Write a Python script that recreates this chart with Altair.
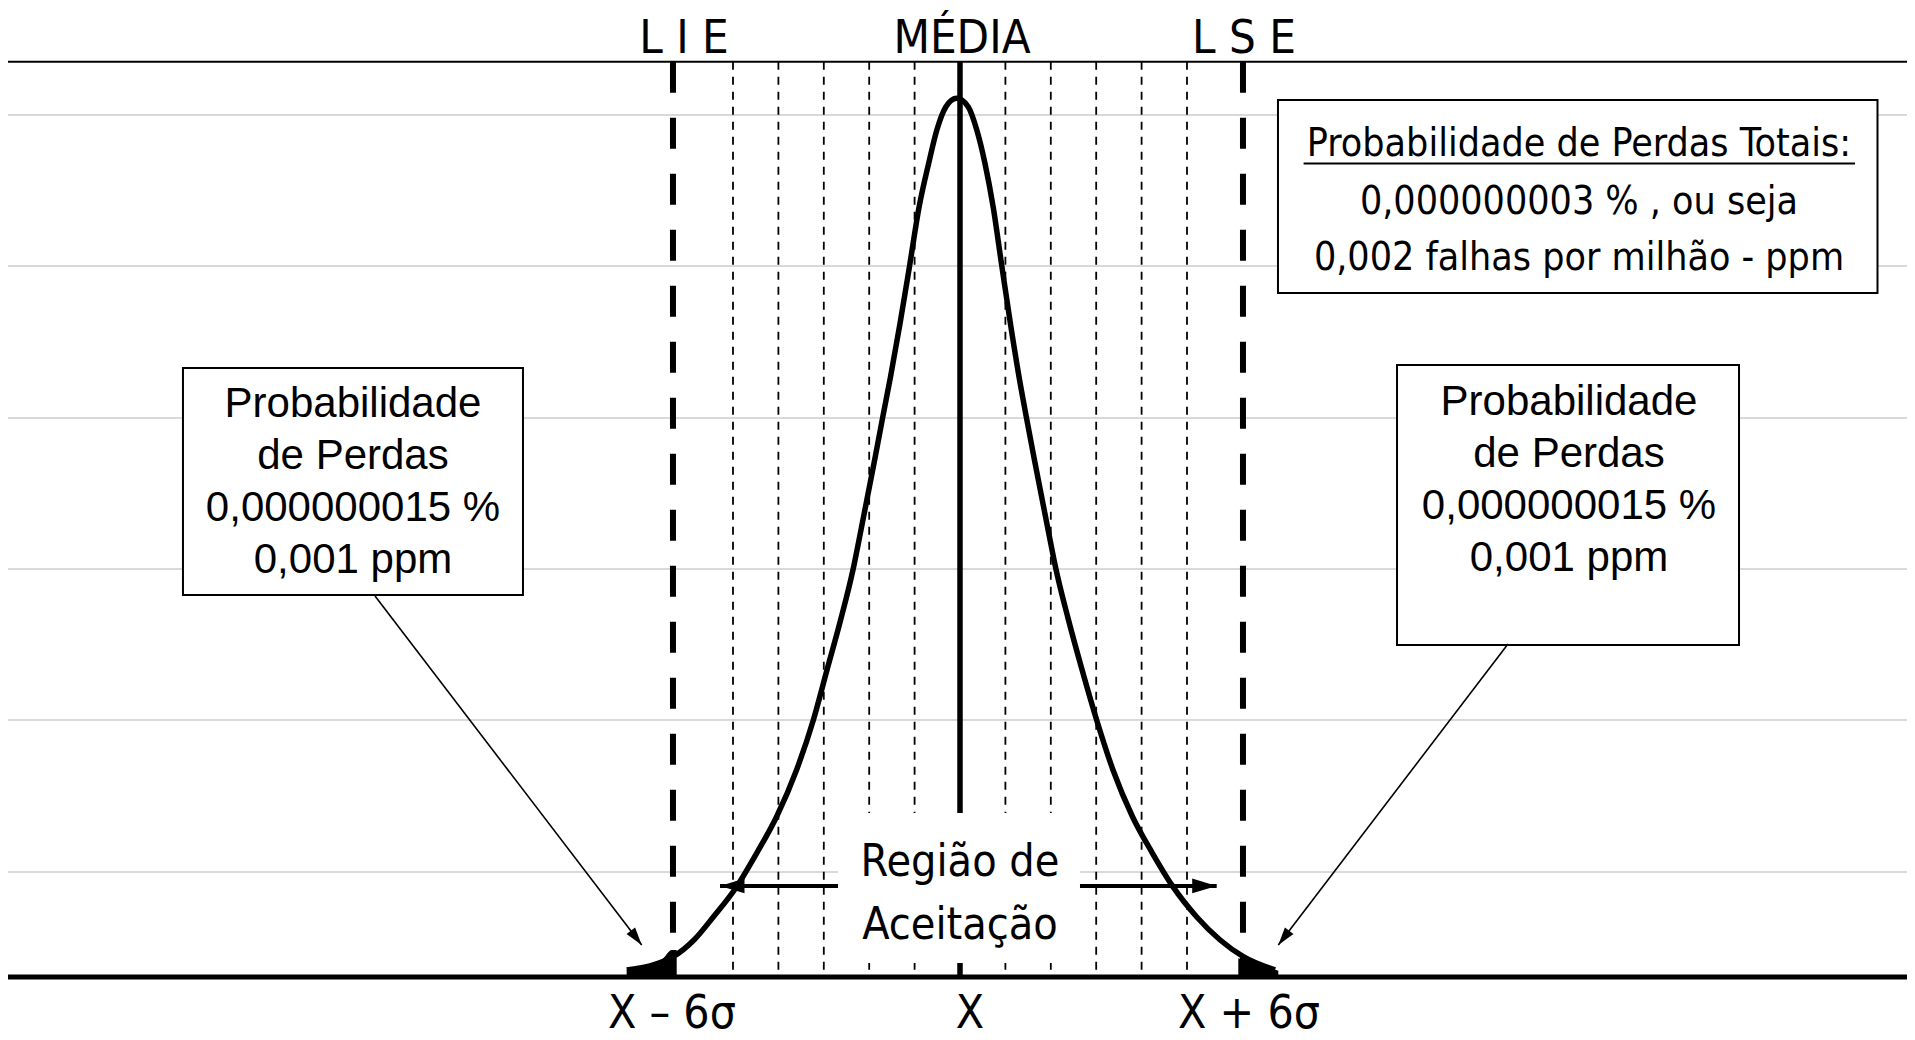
import math
import altair as alt
import pandas as pd

# ---------------- data ----------------
# x: position in sigma-grid units from the centre line, y: % of the curve peak height
X_DOMAIN = [-20.969, 20.859]
Y_DOMAIN = [-7.170, 110.277]

curve_x = [-7.34, -6.32, -5.86, -5.43, -4.92, -4.48, -4.04, -3.60, -3.23, -2.93,
           -2.63, -2.35, -2.21, -1.88, -1.70, -1.53, -1.32, -1.11, -0.90, -0.69,
           -0.51, -0.31, -0.073, 0.18, 0.37, 0.55, 0.73, 0.92, 1.11, 1.30,
           1.46, 1.64, 1.97, 2.11, 2.39, 2.69, 3.01, 3.37, 3.80, 4.24,
           4.69, 5.21, 5.73, 6.24, 6.94]
curve_y = [0.80, 2.31, 4.21, 6.86, 10.28, 14.08, 18.24, 23.56, 29.25, 34.94,
           40.63, 46.51, 50.11, 58.84, 63.77, 68.32, 74.39, 80.95, 87.66, 92.60,
           96.39, 99.04, 100.0, 99.04, 96.39, 92.60, 87.66, 80.95, 74.39, 68.32,
           63.77, 58.84, 50.11, 46.51, 40.63, 34.94, 29.25, 23.56, 18.24, 14.08,
           10.28, 6.86, 4.21, 2.31, 0.80]

left_tail_x = [-7.342, -7.048, -6.755, -6.535, -6.350, -6.240]
left_tail_y = [0.80, 0.99, 1.37, 2.13, 3.07, 3.07]
right_tail_x = [6.130, 6.388, 6.681, 7.011]
right_tail_y = [2.13, 1.74, 1.25, 0.72]

sigma_lines = [-5, -4, -3, -2, -1, 1, 2, 3, 4, 5]
spec_limits = [-6.322, 6.233]
frame_top = 104.17
grid_levels = [98.10, 80.91, 63.62, 46.43, 29.25, 11.95]

top_labels = ["L I E", "MÉDIA", "L S E"]
top_label_x = [-6.079, 0.044, 6.255]
top_label_y = 105.15

bottom_labels = ["X – 6σ", "X", "X + 6σ"]
bottom_label_x = [-6.344, 0.22, 6.366]
bottom_label_y = -5.81

box_x = [-17.115, 9.626, 7.004]
box_x2 = [-9.626, 17.159, 20.209]
box_y = [69.31, 69.65, 99.81]
box_y2 = [43.47, 37.78, 77.84]

side_lines = ["Probabilidade", "de Perdas", "0,000000015 %", "0,001 ppm"]
left_text_x = -13.370
left_text_y = [63.73, 57.81, 51.89, 45.98]
right_text_x = 13.414
right_text_y = [63.96, 58.04, 52.12, 46.20]

total_lines = ["Probabilidade de Perdas Totais:", "0,000000003 % , ou seja",
               "0,002 falhas por milhão - ppm"]
total_text_x = 13.634
total_text_y = [93.49, 86.89, 80.41]
underline_x = [7.568, 19.714]
underline_y = 92.58

accept_lines = ["Região de", "Aceitação"]
accept_text_y = [11.5, 4.3]
accept_mask_x = [-2.687, 2.643]
accept_mask_y = [1.59, 18.66]
accept_arrow_from = [-2.687, 2.643]
accept_arrow_to = [-5.286, 5.654]
accept_arrow_y = 10.36

loss_arrow_x = [-12.885, 12.070]
loss_arrow_y = [43.36, 37.90]
loss_tip_x = [-7.011, 7.011]
loss_tip_y = [3.64, 3.64]

# ---------------- chart ----------------
W, H = 1899, 1032
NARROW = "DejaVu Sans Condensed, Liberation Sans Narrow, sans-serif"
REG = "Liberation Sans, Arial, sans-serif"

xs = alt.Scale(domain=X_DOMAIN, nice=False, zero=False)
ys = alt.Scale(domain=Y_DOMAIN, nice=False, zero=False)
px_x = W / (X_DOMAIN[1] - X_DOMAIN[0])
px_y = H / (Y_DOMAIN[1] - Y_DOMAIN[0])


def X(f="x"):
    return alt.X(f"{f}:Q", scale=xs, axis=None)


def Y(f="y"):
    return alt.Y(f"{f}:Q", scale=ys, axis=None)


def hrule(levels, color, width):
    df = pd.DataFrame({"y": levels, "x": X_DOMAIN[0], "x2": X_DOMAIN[1]})
    return alt.Chart(df).mark_rule(color=color, strokeWidth=width).encode(
        x=X(), x2="x2:Q", y=Y())


grid = hrule(grid_levels, "#d9d9d9", 2)
topline = hrule([frame_top], "black", 2)
baseline = hrule([0.0], "black", 5)

thin = alt.Chart(pd.DataFrame({"x": sigma_lines, "y": frame_top, "y2": 0})).mark_rule(
    color="black", strokeWidth=1.8, strokeDash=[8, 7]).encode(x=X(), y=Y(), y2="y2:Q")

limits = alt.Chart(pd.DataFrame({"x": spec_limits, "y": frame_top, "y2": 0})).mark_rule(
    color="black", strokeWidth=6, strokeDash=[31, 25]).encode(x=X(), y=Y(), y2="y2:Q")

centre = alt.Chart(pd.DataFrame({"x": [0.0], "y": [frame_top], "y2": [0.0]})).mark_rule(
    color="black", strokeWidth=5.5).encode(x=X(), y=Y(), y2="y2:Q")

curve = alt.Chart(pd.DataFrame({"x": curve_x, "y": curve_y})).mark_line(
    color="black", strokeWidth=5.5, interpolate="monotone").encode(x=X(), y=Y())

tails = alt.Chart(pd.DataFrame({
    "x": left_tail_x + right_tail_x,
    "y": left_tail_y + right_tail_y,
    "side": ["L"] * len(left_tail_x) + ["R"] * len(right_tail_x)})).mark_area(
    color="black", interpolate="monotone").encode(
    x=X(), y=Y(), y2=alt.datum(0), detail="side:N")

mask = alt.Chart(pd.DataFrame({"x": [accept_mask_x[0]], "x2": [accept_mask_x[1]],
                               "y": [accept_mask_y[0]], "y2": [accept_mask_y[1]]})).mark_rect(
    color="white").encode(x=X(), x2="x2:Q", y=Y(), y2="y2:Q")

boxes = alt.Chart(pd.DataFrame({"x": box_x, "x2": box_x2, "y": box_y, "y2": box_y2})).mark_rect(
    fill="white", stroke="black", strokeWidth=2).encode(x=X(), x2="x2:Q", y=Y(), y2="y2:Q")

# arrows
HEAD = "M0,0 L4,-1.2 L4,1.2 Z"
acc = alt.Chart(pd.DataFrame({"x": accept_arrow_from, "x2": accept_arrow_to,
                              "y": accept_arrow_y})).mark_rule(
    color="black", strokeWidth=4).encode(x=X(), x2="x2:Q", y=Y())
acc_heads = alt.Chart(pd.DataFrame({"x": accept_arrow_to, "y": accept_arrow_y,
                                    "a": [0, 180]})).mark_point(
    shape=HEAD, filled=True, size=150, color="black", opacity=1).encode(
    x=X(), y=Y(), angle=alt.Angle("a:Q", scale=None))

loss = alt.Chart(pd.DataFrame({"x": loss_arrow_x, "y": loss_arrow_y,
                               "x2": loss_tip_x, "y2": loss_tip_y})).mark_rule(
    color="black", strokeWidth=1.6).encode(x=X(), y=Y(), x2="x2:Q", y2="y2:Q")
angles = []
for x0, y0, x1, y1 in zip(loss_arrow_x, loss_arrow_y, loss_tip_x, loss_tip_y):
    dxp = (x0 - x1) * px_x
    dyp = -(y0 - y1) * px_y
    angles.append(math.degrees(math.atan2(dyp, dxp)) % 360)
loss_heads = alt.Chart(pd.DataFrame({"x": loss_tip_x, "y": loss_tip_y, "a": angles})).mark_point(
    shape=HEAD, filled=True, size=80, color="black", opacity=1).encode(
    x=X(), y=Y(), angle=alt.Angle("a:Q", scale=None))

underline = alt.Chart(pd.DataFrame({"x": [underline_x[0]], "x2": [underline_x[1]],
                                    "y": [underline_y]})).mark_rule(
    color="black", strokeWidth=2).encode(x=X(), x2="x2:Q", y=Y())


def texts(labels, xs_, ys_, font, size):
    df = pd.DataFrame({"t": labels, "x": xs_, "y": ys_})
    return alt.Chart(df).mark_text(font=font, fontSize=size, color="black",
                                   align="center", baseline="alphabetic").encode(
        x=X(), y=Y(), text="t:N")


t_top = texts(top_labels, top_label_x, [top_label_y] * 3, NARROW, 47)
t_bot = texts(bottom_labels, bottom_label_x, [bottom_label_y] * 3, NARROW, 46)
t_left = texts(side_lines, [left_text_x] * 4, left_text_y, REG, 42)
t_right = texts(side_lines, [right_text_x] * 4, right_text_y, REG, 42)
t_total = texts(total_lines, [total_text_x] * 3, total_text_y, NARROW, 39)
t_acc = texts(accept_lines, [0.0, 0.0], accept_text_y, NARROW, 44.5)

chart = alt.layer(
    grid, topline, thin, limits, centre, curve, tails, mask, baseline, boxes,
    acc, acc_heads, loss, loss_heads, underline,
    t_top, t_bot, t_left, t_right, t_total, t_acc
).properties(
    width=W, height=H,
    autosize=alt.AutoSizeParams(type="none"),
    padding=0,
    background="white",
).configure_view(strokeWidth=0)

chart.save("out.html", embed_options={"renderer": "svg", "actions": False})
